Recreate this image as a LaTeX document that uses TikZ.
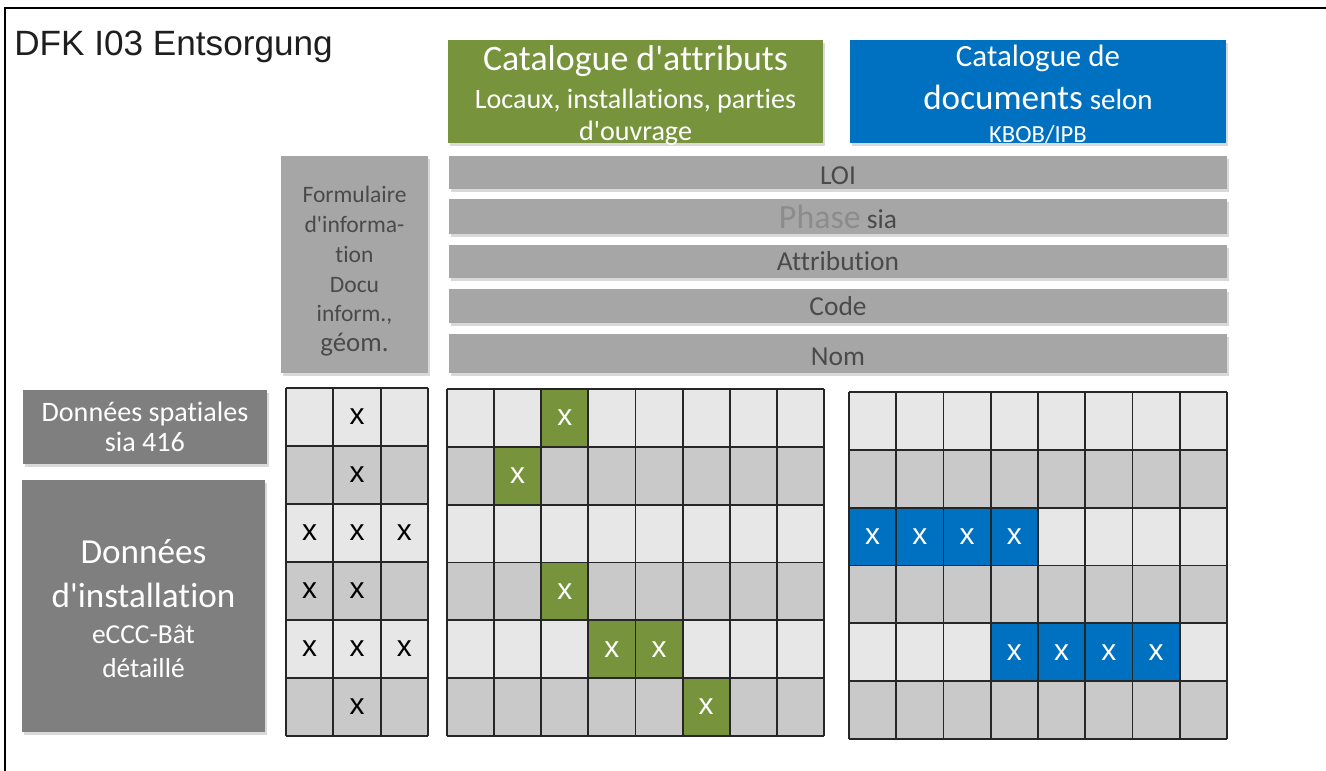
\documentclass[tikz,border=0pt]{standalone}
\usepackage{fontspec}
\newfontfamily\calibri{Carlito}[Ligatures=NoCommon]
\newfontfamily\arialfont{Liberation Sans}
\usetikzlibrary{shadows}
\definecolor{attrgreen}{HTML}{77933C}
\definecolor{docblue}{HTML}{0070C0}
\definecolor{bargrey}{HTML}{A6A6A6}
\definecolor{boxgrey}{HTML}{7F7F7F}
\definecolor{bartext}{HTML}{4A4A4A}
\definecolor{phasetext}{HTML}{8C8C8C}
\definecolor{rowlight}{HTML}{E7E7E7}
\definecolor{rowdark}{HTML}{C9C9C9}
\definecolor{titletext}{HTML}{1E1E1E}

\begin{document}
\calibri
\begin{tikzpicture}[x=0.02cm, y=-0.02cm,
  box/.style={inner sep=0pt, align=center,
              drop shadow={opacity=0.3, shadow xshift=1pt, shadow yshift=-1.5pt}},
  bar/.style={box, fill=bargrey, minimum width=15.56cm, text=bartext,
              font=\fontsize{15.6}{18}\selectfont},
  gridline/.style={line width=1.1pt, black!85},
  xcell/.style={inner sep=0pt, font=\arialfont\fontsize{17}{17}\selectfont},
]
  \useasboundingbox (0,0) rectangle (1326,771);
  \draw[line width=1.2pt] (5,771) -- (5,8) -- (1326,8);

  \node[anchor=west, inner sep=0pt, text=titletext,
        font=\arialfont\fontsize{20}{22}\selectfont] (titre) at (14,47) {DFK I03 Entsorgung};

  % catalogues
  \node[box, fill=attrgreen, text=white, minimum width=7.5cm, minimum height=2.06cm,
        font=\fontsize{16}{18.5}\selectfont] (attributs) at (635.5,91.5)
    {{\fontsize{20.4}{22}\selectfont\rule{0pt}{16pt}Catalogue d'attributs}\\[3pt]
     Locaux, installations, parties\\ \smash{d'ouvrage}};
  \node[box, fill=docblue, text=white, minimum width=7.52cm, minimum height=2.06cm,
        font=\fontsize{17.6}{24}\selectfont] (documents) at (1038,91.5)
    {\rule{0pt}{15pt}Catalogue de\\
     {\fontsize{20}{24}\selectfont documents} {\fontsize{16.5}{18}\selectfont selon}\\[-5pt]
     \smash{\fontsize{14}{16}\selectfont KBOB/IPB}};

  % en-tetes
  \node[box, fill=bargrey, text=bartext, minimum width=2.94cm, minimum height=4.34cm,
        font=\fontsize{13.4}{17}\selectfont] (formulaire) at (354.5,264.5)
    {\rule{0pt}{17pt}Formulaire\\ d'informa-\\ tion\\ Docu\\ inform.,\\ {\fontsize{15.3}{17}\selectfont g\'eom.}};
  \node[bar, minimum height=0.66cm] (loi) at (838,172.5) {\rule{0pt}{14pt}LOI};
  \node[bar, minimum height=0.70cm] (phase) at (838,216.5)
    {{\color{phasetext}\fontsize{19.3}{20}\selectfont Phase} sia};
  \node[bar, minimum height=0.66cm] (attribution) at (838,261.5) {Attribution};
  \node[bar, minimum height=0.68cm] (code) at (838,306) {Code};
  \node[bar, minimum height=0.78cm] (nom) at (838,353.5) {\rule{0pt}{13.5pt}Nom};

  % donnees
  \node[box, fill=boxgrey, text=white, minimum width=4.88cm, minimum height=1.48cm,
        font=\fontsize{16}{17}\selectfont] (spatiales) at (145,427) {Donn\'ees spatiales\\ sia 416};
  \node[box, fill=boxgrey, text=white, minimum width=4.86cm, minimum height=5.04cm,
        font=\fontsize{20}{25}\selectfont] (installation) at (143.5,606)
    {\rule{0pt}{17pt}Donn\'ees\\ d'installation\\[-4.5pt]
     {\fontsize{15.6}{19}\selectfont eCCC-B\^at}\\[-5.5pt]
     {\fontsize{15.6}{19}\selectfont d\'etaill\'e}};

  % grille formulaire
  \fill[rowlight] (286,388) rectangle (428,736);
  \foreach \r in {1,3,5}
    \fill[rowdark] (286,{388+\r*58}) rectangle (428,{388+(\r+1)*58});
  \foreach \c in {0,...,3}
    \draw[gridline] ({286+\c*47.33},388) -- ({286+\c*47.33},736);
  \foreach \r in {0,...,6}
    \draw[gridline] (286,{388+\r*58}) -- (428,{388+\r*58});
  \foreach \r/\c in {1/2,2/2,3/1,3/2,3/3,4/1,4/2,5/1,5/2,5/3,6/2}
    \node[xcell] (xf-\r-\c) at ({286+(\c-0.5)*47.33},{388+(\r-0.5)*58}) {x};

  % grille attributs
  \fill[rowlight] (447,389) rectangle (824,736);
  \foreach \r in {1,3,5}
    \fill[rowdark] (447,{389+\r*57.83}) rectangle (824,{389+(\r+1)*57.83});
  \foreach \r/\c in {1/3,2/2,4/3,5/4,5/5,6/6}
    \fill[attrgreen] ({447+(\c-1)*47.125},{389+(\r-1)*57.83}) rectangle ++(47.125,57.83);
  \foreach \c in {0,...,8}
    \draw[gridline] ({447+\c*47.125},389) -- ({447+\c*47.125},736);
  \foreach \r in {0,...,6}
    \draw[gridline] (447,{389+\r*57.83}) -- (824,{389+\r*57.83});
  \foreach \r/\c in {1/3,2/2,4/3,5/4,5/5,6/6}
    \node[xcell, text=white] (xa-\r-\c) at ({447+(\c-0.5)*47.125},{389+(\r-0.5)*57.83}) {x};

  % grille documents
  \fill[rowlight] (849,392) rectangle (1227,739);
  \foreach \r in {1,3,5}
    \fill[rowdark] (849,{392+\r*57.83}) rectangle (1227,{392+(\r+1)*57.83});
  \foreach \r/\c in {3/1,3/2,3/3,3/4,5/4,5/5,5/6,5/7}
    \fill[docblue] ({849+(\c-1)*47.25},{392+(\r-1)*57.83}) rectangle ++(47.25,57.83);
  \foreach \c in {0,...,8}
    \draw[gridline] ({849+\c*47.25},392) -- ({849+\c*47.25},739);
  \foreach \r in {0,...,6}
    \draw[gridline] (849,{392+\r*57.83}) -- (1227,{392+\r*57.83});
  \foreach \r/\c in {3/1,3/2,3/3,3/4,5/4,5/5,5/6,5/7}
    \node[xcell, text=white] (xd-\r-\c) at ({849+(\c-0.5)*47.25},{392+(\r-0.5)*57.83}) {x};
\end{tikzpicture}
\end{document}
